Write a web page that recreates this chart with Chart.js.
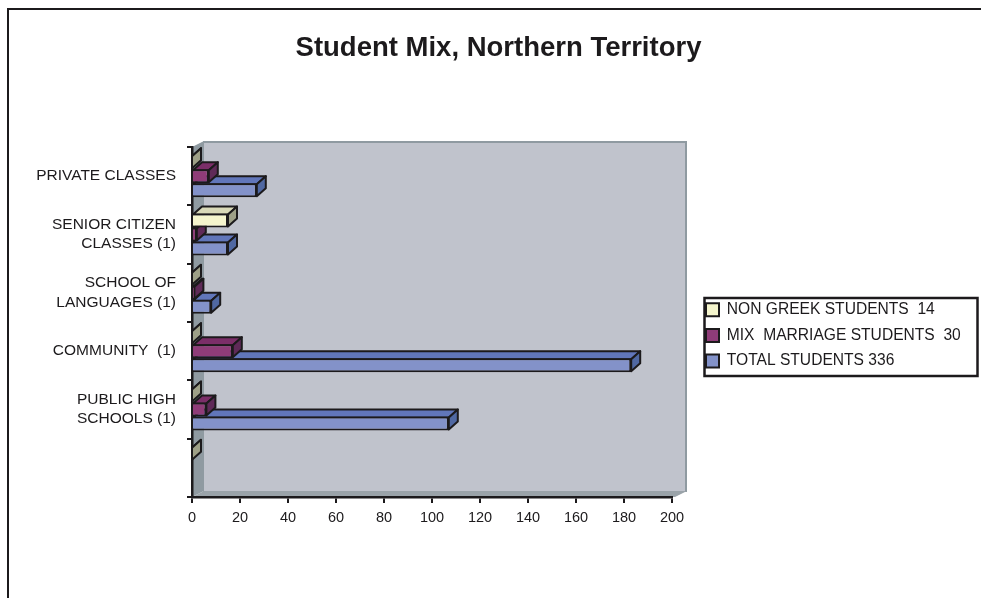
<!DOCTYPE html>
<html>
<head>
<meta charset="utf-8">
<title>Student Mix, Northern Territory</title>
<script src="https://cdn.jsdelivr.net/npm/chart.js@4"></script>
<style>
  html, body { margin: 0; padding: 0; background: #fff; }
  canvas { display: block; }
</style>
</head>
<body>
<canvas id="mixChart" width="981" height="598"></canvas>
<script>
const categories = [
  'PRIVATE CLASSES',
  ['SENIOR CITIZEN', 'CLASSES (1)'],
  ['SCHOOL OF', 'LANGUAGES (1)'],
  'COMMUNITY  (1)',
  ['PUBLIC HIGH', 'SCHOOLS (1)'],
  ''
];
const nonGreek = [0, 15, 0, 0, 0, 0];
const mixMarriage = [7, 2, 1, 17, 6, null];
const totalStudents = [27, 15, 8, 183, 107, null];

const font = 'Liberation Sans, Arial, sans-serif';
const ink = '#1c1a1c';

// depth of the fake 3d
const dx = 9, dy = 8;
const faces = [
  { top: '#d9d9b8', side: '#9ea087' },
  { top: '#7b2e68', side: '#5f2a58' },
  { top: '#6176ba', side: '#5068a2' }
];

function quad(ctx, pts, fill, stroke) {
  ctx.beginPath();
  ctx.moveTo(pts[0][0], pts[0][1]);
  for (let i = 1; i < pts.length; i++) ctx.lineTo(pts[i][0], pts[i][1]);
  ctx.closePath();
  ctx.fillStyle = fill;
  ctx.fill();
  if (stroke) {
    ctx.lineWidth = 2;
    ctx.strokeStyle = stroke;
    ctx.lineJoin = 'round';
    ctx.stroke();
  }
}

const walls = {
  id: 'walls',
  afterLayout(chart) {
    // legend sits in its own box right of the plot
    const l = chart.legend;
    l.left = 696;
    l.right = 976;
    l.top = 292;
    l.bottom = 381;
    // title is centred on the page frame, not on the plot
    chart.titleBlock.left = 7;
    chart.titleBlock.right = 990;
  },
  beforeDraw(chart) {
    const ctx = chart.ctx;
    const a = chart.chartArea;
    ctx.save();
    // page frame
    ctx.fillStyle = ink;
    ctx.fillRect(7, 8, 974, 2);
    ctx.fillRect(7, 8, 2, 590);
    // back wall
    ctx.fillStyle = '#8f9aa1';
    ctx.fillRect(a.left + 11, a.top - 6, a.right - a.left + 4, a.bottom - a.top + 1);
    ctx.fillStyle = '#c0c3cc';
    ctx.fillRect(a.left + 12, a.top - 4, a.right - a.left + 1, a.bottom - a.top - 2);
    // left wall and floor
    quad(ctx, [[a.left, a.top], [a.left + 12, a.top - 6], [a.left + 12, a.bottom - 6], [a.left, a.bottom]], '#8f9aa1');
    quad(ctx, [[a.left, a.bottom], [a.left + 12, a.bottom - 6], [a.right + 15, a.bottom - 6], [a.right + 3, a.bottom]], '#9aa3a9');
    // legend box
    ctx.lineWidth = 2.5;
    ctx.strokeStyle = ink;
    ctx.strokeRect(704.5, 298, 273, 78);
    ctx.restore();
  },
  beforeDatasetDraw(chart, args) {
    const ctx = chart.ctx;
    const f = faces[args.index];
    ctx.save();
    args.meta.data.forEach(function(bar, i) {
      if (chart.data.datasets[args.index].data[i] === null) return;
      const p = bar.getProps(['x', 'y', 'base', 'height'], true);
      const t = p.y - p.height / 2 + 1, b = p.y + p.height / 2 - 1;
      quad(ctx, [[p.base, t], [p.base + dx, t - dy], [p.x + dx, t - dy], [p.x, t]], f.top, ink);
      quad(ctx, [[p.x, t], [p.x + dx, t - dy], [p.x + dx, b - dy], [p.x, b]], f.side, ink);
    });
    ctx.restore();
  }
};

new Chart(document.getElementById('mixChart'), {
  type: 'bar',
  data: {
    labels: categories,
    datasets: [
      { label: 'NON GREEK STUDENTS  14', data: nonGreek, backgroundColor: '#f5f5cd' },
      { label: 'MIX  MARRIAGE STUDENTS  30', data: mixMarriage, backgroundColor: '#8f3c78' },
      { label: 'TOTAL STUDENTS 336', data: totalStudents, backgroundColor: '#8392c9' }
    ]
  },
  options: {
    indexAxis: 'y',
    responsive: false,
    animation: false,
    layout: { autoPadding: false, padding: { left: 15, right: 309, top: 0, bottom: 0 } },
    datasets: {
      bar: { borderColor: ink, borderWidth: 2, categoryPercentage: 0.72, barPercentage: 1, clip: false }
    },
    scales: {
      x: {
        min: 0,
        max: 200,
        afterFit(scale) { scale.height = 101; },
        ticks: { stepSize: 20, maxRotation: 0, color: ink, padding: 6, font: { family: font, size: 14.5 } },
        grid: { drawOnChartArea: false, color: ink, lineWidth: 2, tickLength: 6 },
        border: { color: ink, width: 2.5 }
      },
      y: {
        afterFit(scale) { scale.width = 177; },
        ticks: { color: ink, padding: 11, autoSkip: false, font: { family: font, size: 15.5, lineHeight: 1.25 } },
        grid: { drawOnChartArea: false, color: ink, lineWidth: 2, tickLength: 5 },
        border: { color: ink, width: 2.5 }
      }
    },
    plugins: {
      title: {
        display: true,
        text: 'Student Mix, Northern Territory',
        color: ink,
        font: { family: font, size: 27.5, weight: 'bold', lineHeight: 1.2 },
        padding: { top: 32, bottom: 82 }
      },
      legend: {
        position: 'chartArea',
        align: 'start',
        labels: {
          boxWidth: 13,
          boxHeight: 13,
          padding: 10,
          color: ink,
          font: { family: font, size: 15.6 }
        }
      },
      tooltip: { enabled: false }
    }
  },
  plugins: [walls]
});
</script>
</body>
</html>
